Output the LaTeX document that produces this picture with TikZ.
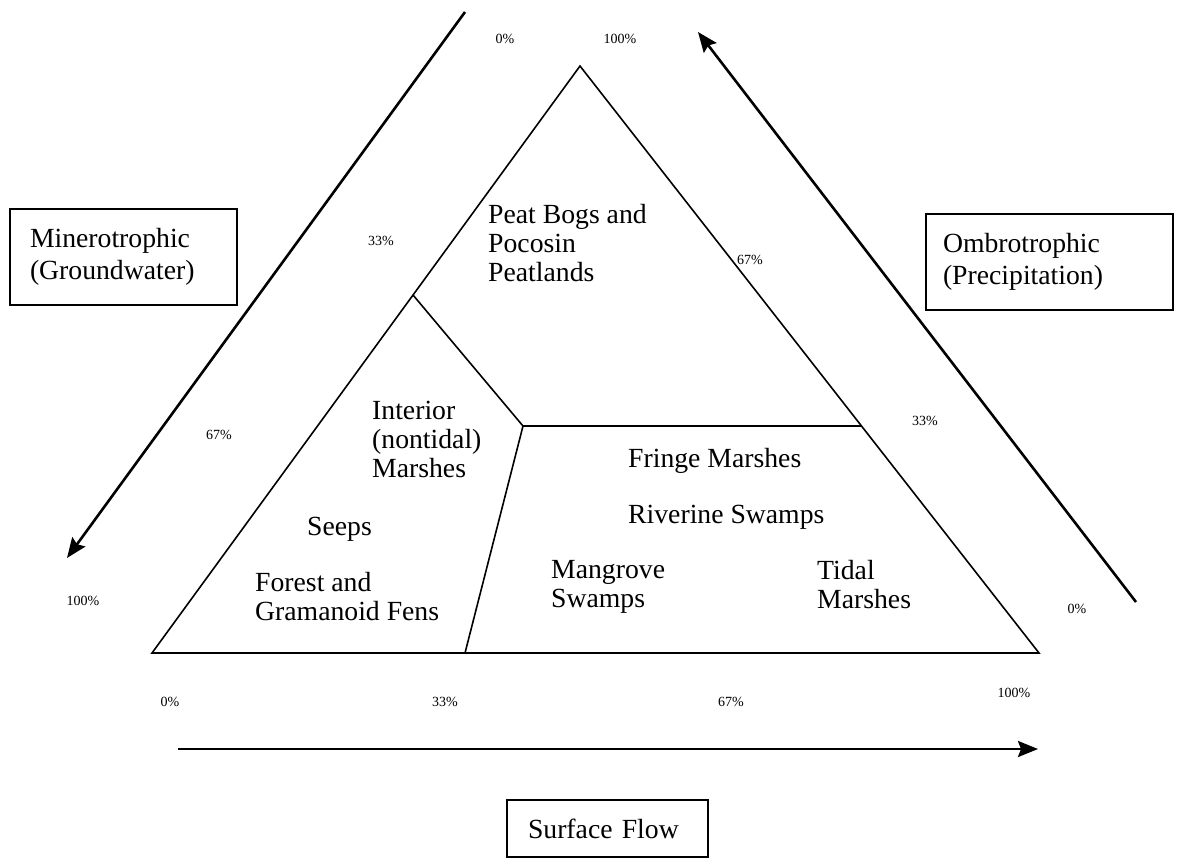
\documentclass[tikz,border=0pt]{standalone}
\usepackage{fontspec}
\setmainfont{Liberation Serif}
\usetikzlibrary{arrows.meta}

\begin{document}
\begin{tikzpicture}[x=1pt, y=-1pt,
	zone/.style={align=left, anchor=north west, inner sep=0pt, font=\fontsize{27.7}{29}\selectfont},
	pct/.style={inner sep=0pt, font=\fontsize{14}{16}\selectfont},
	source/.style={draw, line width=2.4pt, align=left, inner ysep=0pt, font=\fontsize{27.7}{32}\selectfont},
	flow/.style={line width=2.6pt, -{Stealth[length=20pt, width=16pt, inset=3pt]}}]
\useasboundingbox (0,0) rectangle (1177,857);

% corners of the triangle and the joints of the dividing lines
\coordinate (apex) at (580,66);
\coordinate (bl) at (152,653);
\coordinate (br) at (1039,653);
\coordinate (lj) at (413,295);
\coordinate (cj) at (523,426);
\coordinate (rj) at (861,426);
\coordinate (bj) at (465,653);

\draw[line width=1.6pt, line join=miter] (apex) -- (br) -- (bl) -- cycle;
\draw[line width=1.6pt] (lj) -- (cj) -- (rj);
\draw[line width=1.6pt] (cj) -- (bj);

% the three water sources
\coordinate (mtop) at (465,12);
\coordinate (mbot) at (67,558);
\coordinate (obot) at (1136,602);
\coordinate (otop) at (698,32);
\coordinate (sleft) at (178,749);
\coordinate (sright) at (1038,749);

\draw[flow] (mtop) -- (mbot);
\draw[flow] (obot) -- (otop);
\draw[flow] (sleft) -- (sright);

\node[source, minimum width=227pt, minimum height=96pt, text width=187pt, inner xsep=20pt] (mineral) at (123.5,257) {Minerotrophic\\(Groundwater)};
\node[source, minimum width=247pt, minimum height=96pt, text width=213pt, inner xsep=17pt] (ombro) at (1049.5,262) {Ombrotrophic\\(Precipitation)};
\node[source, minimum width=201pt, minimum height=57pt, text width=159pt, inner xsep=21pt] (surface) at (607.5,828.5) {Surface Flow};

% wetland classes
\node[zone] (peat) at (488,204) {Peat Bogs and\\Pocosin\\Peatlands};
\node[zone] (interior) at (372,401) {Interior\\(nontidal)\\Marshes};
\node[zone] (seeps) at (307,517) {Seeps};
\node[zone] (fens) at (255,572) {Forest and\\Gramanoid Fens};
\node[zone] (fringe) at (628,448) {Fringe Marshes};
\node[zone] (riverine) at (628,505) {Riverine Swamps};
\node[zone] (mangrove) at (551,560) {Mangrove\\Swamps};
\node[zone] (tidal) at (817,560) {Tidal\\Marshes};

% percent marks
\foreach \px/\py/\t [count=\k] in {505/39/0\%, 620/39/100\%, 381/241/33\%, 750/260/67\%,
	219/435/67\%, 925/421/33\%, 83/601/100\%, 1077/609/0\%,
	170/702/0\%, 445/702/33\%, 731/702/67\%, 1014/693/100\%}
{
	\node[pct] (pct\k) at (\px,\py) {\t};
}
\end{tikzpicture}
\end{document}
